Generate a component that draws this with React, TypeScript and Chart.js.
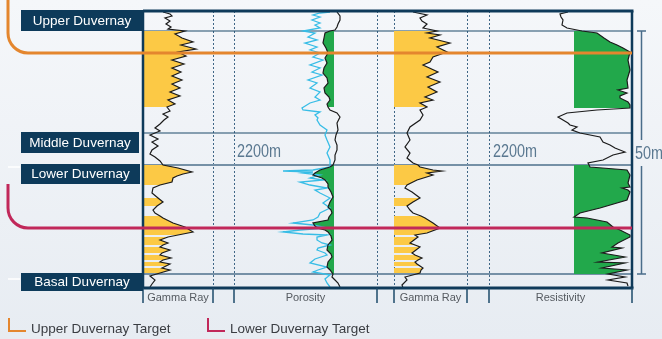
import React, { useEffect, useRef } from 'react';
import { Chart, registerables } from 'chart.js';
Chart.register(...registerables);

// ---------- data (depth, value) ----------
const formationNames = ['Upper Duvernay', 'Middle Duvernay', 'Lower Duvernay', 'Basal Duvernay'];
const formationTops = [11, 133, 165, 274];
const baseDepth = 288;
const trackNames = ['Gamma Ray', 'Porosity', 'Gamma Ray', 'Resistivity'];
const trackLeft = [143, 234, 394, 489];
const trackRight = [213, 377, 467, 632];
const distanceLabels = ['2200m', '2200m'];
const scaleLabel = '50m';
const legendLabels = ['Upper Duvernay Target', 'Lower Duvernay Target'];
const targetDepths = [53, 228];

const gammaRay1: [number, number][] = [
  [12, 163], [14, 170], [16, 172], [18, 165], [21, 170], [24, 166], [27, 171], [29, 168], [31, 185], [34, 175],
  [38, 182], [42, 193], [45, 181], [49, 196], [52, 178], [56, 186], [60, 172], [64, 184], [68, 172], [72, 181],
  [76, 172], [80, 182], [84, 172], [88, 180], [92, 170], [96, 180], [100, 168], [104, 175], [107, 167], [111, 170],
  [114, 163], [117, 168], [120, 164], [124, 160], [128, 155], [131, 160], [135, 150], [139, 158], [142, 152], [146, 158],
  [150, 152], [154, 150], [157, 155], [161, 160], [165, 163], [168, 178], [172, 192], [174, 183], [176, 177], [178, 173],
  [182, 172], [185, 160], [188, 153], [193, 152], [198, 158], [202, 163], [206, 157], [210, 153], [213, 155], [216, 160],
  [218, 163], [223, 173], [227, 185], [232, 193], [235, 178], [237, 168], [240, 160], [243, 168], [245, 163], [247, 160],
  [250, 170], [253, 162], [255, 160], [258, 171], [260, 163], [262, 160], [264, 170], [266, 166], [268, 162], [270, 170],
  [273, 160], [276, 150], [280, 155], [284, 152], [287, 150],
];
const gammaRay2: [number, number][] = [
  [12, 413], [15, 427], [18, 420], [21, 422], [24, 427], [28, 423], [31, 437], [33, 427], [35, 440], [38, 430],
  [43, 450], [47, 437], [52, 447], [57, 433], [62, 430], [65, 423], [72, 438], [77, 427], [82, 440], [87, 428],
  [92, 437], [97, 425], [100, 433], [103, 420], [107, 427], [110, 420], [115, 423], [120, 420], [127, 410], [133, 407],
  [140, 410], [147, 405], [153, 410], [158, 407], [163, 413], [165, 418], [167, 420], [170, 433], [171, 442], [173, 427],
  [175, 433], [180, 417], [185, 407], [188, 405], [192, 412], [198, 420], [202, 413], [206, 407], [210, 410], [213, 413],
  [216, 421], [218, 425], [223, 433], [228, 440], [233, 427], [235, 415], [237, 418], [240, 414], [243, 410], [245, 415],
  [247, 420], [250, 416], [253, 412], [255, 415], [258, 422], [260, 418], [262, 415], [264, 417], [266, 420], [268, 423],
  [270, 421], [273, 420], [277, 405], [280, 407], [285, 402], [288, 403],
];
const porosityBlack: [number, number][] = [
  [12, 337], [16, 340], [20, 340], [24, 338], [27, 337], [30, 335], [31, 330], [33, 325], [38, 324], [43, 323],
  [48, 326], [53, 328], [58, 325], [63, 327], [68, 324], [73, 323], [78, 327], [83, 328], [88, 324], [93, 325],
  [97, 329], [100, 330], [104, 327], [107, 328], [110, 330], [113, 337], [117, 340], [123, 337], [130, 338], [135, 336],
  [140, 335], [145, 337], [150, 337], [155, 335], [160, 335], [165, 333], [167, 330], [170, 320], [173, 315], [175, 313],
  [178, 322], [180, 325], [184, 328], [187, 328], [192, 331], [197, 333], [202, 330], [207, 328], [210, 331], [213, 332],
  [217, 329], [220, 328], [223, 313], [226, 315], [228, 317], [230, 325], [232, 328], [236, 331], [240, 332], [245, 328],
  [250, 327], [254, 331], [257, 332], [262, 328], [267, 327], [270, 330], [274, 333], [277, 332], [280, 335], [283, 338],
  [287, 340],
];
const porosityBlue: [number, number][] = [
  [12, 330], [13, 320], [15, 313], [17, 320], [20, 312], [23, 320], [25, 315], [28, 320], [31, 303], [33, 315],
  [37, 308], [40, 317], [43, 305], [47, 317], [50, 310], [53, 320], [57, 313], [60, 323], [65, 310], [68, 320],
  [72, 312], [75, 322], [80, 308], [83, 317], [88, 310], [92, 320], [97, 315], [100, 320], [103, 310], [108, 302],
  [110, 303], [112, 320], [115, 315], [118, 318], [120, 317], [125, 320], [130, 327], [135, 325], [140, 327], [147, 330],
  [153, 327], [160, 330], [167, 330], [170, 313], [171, 283], [172, 313], [173, 303], [175, 320], [178, 310], [180, 323],
  [182, 300], [185, 310], [188, 327], [190, 315], [193, 320], [198, 330], [203, 323], [208, 330], [213, 320], [217, 318],
  [220, 313], [223, 293], [225, 313], [228, 327], [230, 300], [232, 283], [234, 303], [235, 327], [237, 317], [240, 317],
  [243, 322], [245, 330], [248, 318], [250, 317], [253, 325], [255, 327], [259, 315], [263, 310], [267, 327], [270, 318],
  [272, 313], [275, 330], [279, 325], [283, 327], [287, 330],
];
const resistivity: [number, number][] = [
  [12, 568], [14, 560], [17, 561], [20, 563], [25, 562], [28, 567], [31, 582], [33, 597], [38, 604], [42, 610],
  [45, 617], [48, 623], [52, 630], [60, 628], [70, 630], [80, 627], [88, 628], [90, 618], [93, 627], [96, 620],
  [98, 620], [102, 628], [105, 630], [108, 630], [110, 597], [113, 567], [117, 558], [120, 563], [123, 568], [125, 570],
  [127, 577], [130, 572], [133, 580], [137, 600], [142, 603], [145, 610], [148, 615], [152, 625], [155, 613], [160, 603],
  [163, 588], [165, 589], [167, 590], [170, 627], [175, 630], [183, 628], [187, 630], [188, 622], [190, 628], [192, 630],
  [200, 627], [208, 600], [213, 580], [217, 574], [218, 587], [222, 607], [227, 613], [230, 620], [235, 630], [237, 630],
  [243, 618], [247, 612], [248, 622], [253, 602], [257, 625], [262, 598], [263, 625], [268, 602], [270, 627], [274, 608],
  [277, 625], [280, 608], [283, 627], [286, 628],
];

// shaded intervals [top, bottom]
const gammaBands: [number, number][] = [
  [31, 107], [165, 185], [198, 206], [216, 235], [237, 245], [247, 253], [255, 260], [262, 266], [268, 273],
];
const payBands: [number, number][] = [[31, 107], [165, 274]];
const resBands: [number, number][] = [[31, 108], [165, 274]];

// ---------- style ----------
const YELLOW = '#fcc945';
const GREEN = '#22a84b';
const BLUE = '#38bde6';
const CURVE = '#1b1b1b';
const NAVY = '#0d3a5a';
const ORANGE = '#e4862e';
const CRIMSON = '#c1285a';
const TEXTGREY = '#5a7890';

const toPts = (arr: [number, number][]) => arr.map(([d, v]) => ({ x: v, y: d }));

function bandShape(curve: [number, number][], top: number, bottom: number, edge: number, L: number, R: number) {
  const pts = curve.filter(([d]) => d >= top && d <= bottom).map(([d, v]) => ({ x: v, y: d }));
  if (!pts.length) return [];
  const yA = pts[0].y;
  const yB = pts[pts.length - 1].y;
  return [{ x: L, y: yA }, ...pts, { x: edge, y: yB }, { x: edge, y: yA }, { x: R, y: yA }];
}

const curveDs = (data: [number, number][], color: string, order: number, width = 1.2) => ({
  data: toPts(data), showLine: true, borderColor: color, borderWidth: width, pointRadius: 0,
  fill: false, tension: 0, order,
});
const shapeDs = (data: any[], color: string) => ({
  data, showLine: true, borderColor: 'rgba(0,0,0,0)', borderWidth: 0, pointRadius: 0,
  backgroundColor: color, fill: 'shape', tension: 0, order: 5,
});

// draws text squeezed horizontally (condensed look)
function narrowText(ctx: any, text: string, x: number, y: number, sx: number) {
  ctx.save();
  ctx.translate(x, y);
  ctx.scale(sx, 1);
  ctx.fillText(text, 0, 0);
  ctx.restore();
}

const decor = {
  id: 'decor',
  beforeDraw(chart: any) {
    const { ctx } = chart;
    const g = ctx.createLinearGradient(0, 0, 0, chart.height);
    g.addColorStop(0, '#f5f7fa');
    g.addColorStop(1, '#e7ecf2');
    ctx.save();
    ctx.fillStyle = g;
    ctx.fillRect(0, 0, chart.width, chart.height);
    ctx.restore();
  },
  beforeDatasetsDraw(chart: any) {
    const { ctx } = chart;
    const X = (v: number) => chart.scales.x.getPixelForValue(v);
    const Y = (v: number) => chart.scales.y.getPixelForValue(v);
    ctx.save();
    ctx.strokeStyle = '#3f6686';
    ctx.lineWidth = 1;
    ctx.setLineDash([2, 2]);
    const inner = [trackRight[0], trackLeft[1], trackRight[1], trackLeft[2], trackRight[2], trackLeft[3]];
    inner.forEach((x) => {
      ctx.beginPath();
      ctx.moveTo(Math.round(X(x)) + 0.5, Y(formationTops[0]));
      ctx.lineTo(Math.round(X(x)) + 0.5, Y(baseDepth));
      ctx.stroke();
    });
    ctx.setLineDash([]);
    formationTops.slice(1).forEach((d, i) => {
      ctx.beginPath();
      ctx.strokeStyle = i === 0 ? '#1d4a6a' : '#7590a6';
      ctx.lineWidth = i === 0 ? 1.2 : 1.8;
      ctx.moveTo(X(trackLeft[0]), Y(d));
      ctx.lineTo(X(trackRight[3]), Y(d));
      ctx.stroke();
    });
    ctx.beginPath();
    ctx.strokeStyle = '#1d4a6a';
    ctx.lineWidth = 1.2;
    ctx.moveTo(X(trackLeft[0]), Y(31));
    ctx.lineTo(X(trackRight[3]), Y(31));
    ctx.stroke();
    ctx.restore();
  },
  afterDatasetsDraw(chart: any) {
    const { ctx } = chart;
    const X = (v: number) => chart.scales.x.getPixelForValue(v);
    const Y = (v: number) => chart.scales.y.getPixelForValue(v);
    ctx.save();
    ctx.strokeStyle = '#0e3a5a';
    ctx.lineWidth = 3;
    ctx.beginPath();
    ctx.moveTo(X(trackLeft[0]), Y(formationTops[0]));
    ctx.lineTo(X(trackRight[3]) + 1.5, Y(formationTops[0]));
    ctx.moveTo(X(trackLeft[0]), Y(baseDepth));
    ctx.lineTo(X(trackRight[3]) + 1.5, Y(baseDepth));
    ctx.stroke();
    ctx.lineWidth = 2.5;
    ctx.beginPath();
    ctx.moveTo(X(trackLeft[0]), Y(formationTops[0]));
    ctx.lineTo(X(trackLeft[0]), Y(baseDepth));
    ctx.moveTo(X(trackRight[3]), Y(formationTops[0]));
    ctx.lineTo(X(trackRight[3]), Y(baseDepth));
    ctx.stroke();
    ctx.lineWidth = 1.5;
    ctx.strokeStyle = '#1d4a6a';
    const ticks = [trackLeft[0], trackRight[0], trackLeft[1], trackRight[1], trackLeft[2], trackRight[2], trackLeft[3], trackRight[3]];
    ticks.forEach((x) => {
      ctx.beginPath();
      ctx.moveTo(X(x), Y(baseDepth));
      ctx.lineTo(X(x), Y(baseDepth) + 15);
      ctx.stroke();
    });
    const drawTarget = (startY: number, depth: number, color: string) => {
      ctx.beginPath();
      ctx.strokeStyle = color;
      ctx.lineWidth = 3;
      ctx.lineCap = 'butt';
      ctx.moveTo(8, startY);
      ctx.arcTo(8, Y(depth), 28, Y(depth), 20);
      ctx.lineTo(X(trackRight[3]), Y(depth));
      ctx.stroke();
    };
    drawTarget(0, targetDepths[0], ORANGE);
    drawTarget(184, targetDepths[1], CRIMSON);
    ctx.restore();
  },
  afterDraw(chart: any) {
    const { ctx } = chart;
    const X = (v: number) => chart.scales.x.getPixelForValue(v);
    const Y = (v: number) => chart.scales.y.getPixelForValue(v);
    ctx.save();
    const boxTop = [10, 132, 164, 273];
    const boxBottom = [31, 153, 184, 291];
    const boxRight = [143, 139, 140, 143];
    ctx.font = '13.5px "Liberation Sans", Arial, sans-serif';
    ctx.textAlign = 'center';
    ctx.textBaseline = 'middle';
    formationNames.forEach((n, i) => {
      ctx.fillStyle = NAVY;
      ctx.fillRect(21, Y(boxTop[i]), boxRight[i] - 21, Y(boxBottom[i]) - Y(boxTop[i]));
      ctx.fillStyle = '#ffffff';
      ctx.fillText(n, (21 + boxRight[i]) / 2, (Y(boxTop[i]) + Y(boxBottom[i])) / 2 + 0.5);
    });
    ctx.strokeStyle = '#ffffff';
    ctx.lineWidth = 1.5;
    ctx.beginPath();
    ctx.moveTo(8, 167); ctx.lineTo(20, 167);
    ctx.moveTo(8, 279); ctx.lineTo(20, 279);
    ctx.stroke();
    ctx.fillStyle = '#555a60';
    ctx.font = '11px "Liberation Sans", Arial, sans-serif';
    trackNames.forEach((n, i) => {
      ctx.fillText(n, (X(trackLeft[i]) + X(trackRight[i])) / 2, Y(baseDepth) + 10);
    });
    // distance labels (condensed)
    ctx.fillStyle = TEXTGREY;
    ctx.font = '18px "Liberation Sans", Arial, sans-serif';
    ctx.textAlign = 'left';
    ctx.textBaseline = 'alphabetic';
    const sx = 44 / ctx.measureText(distanceLabels[0]).width;
    narrowText(ctx, distanceLabels[0], X(trackLeft[1]) + 3, 157, sx);
    narrowText(ctx, distanceLabels[1], X(trackLeft[3]) + 4, 157, sx);
    // scale bar
    ctx.strokeStyle = '#4a6d8a';
    ctx.lineWidth = 1.5;
    ctx.beginPath();
    ctx.moveTo(641.5, Y(31)); ctx.lineTo(641.5, 140);
    ctx.moveTo(641.5, 166); ctx.lineTo(641.5, Y(274));
    ctx.moveTo(637, Y(31)); ctx.lineTo(646, Y(31));
    ctx.moveTo(637, Y(274)); ctx.lineTo(646, Y(274));
    ctx.stroke();
    narrowText(ctx, scaleLabel, 635, 159, sx);
    // legend
    const legendX = [8, 207];
    const colors = [ORANGE, CRIMSON];
    ctx.font = '13.5px "Liberation Sans", Arial, sans-serif';
    ctx.textBaseline = 'middle';
    legendLabels.forEach((l, i) => {
      ctx.strokeStyle = colors[i];
      ctx.lineWidth = 2;
      ctx.beginPath();
      ctx.moveTo(legendX[i] + 1, 318);
      ctx.lineTo(legendX[i] + 1, 331);
      ctx.lineTo(legendX[i] + 18, 331);
      ctx.stroke();
      ctx.fillStyle = '#3a3d42';
      ctx.fillText(l, legendX[i] + 23, 329);
    });
    ctx.restore();
  },
};

export default function App() {
  const ref = useRef<HTMLCanvasElement>(null);
  useEffect(() => {
    document.body.style.margin = '0';
    const canvas = ref.current;
    if (!canvas) return;
    const datasets: any[] = [
      curveDs(porosityBlack, CURVE, 0),
      curveDs(gammaRay1, CURVE, 0),
      curveDs(gammaRay2, CURVE, 0),
      curveDs(resistivity, CURVE, 0),
      curveDs(porosityBlue, BLUE, 1, 1.3),
    ];
    gammaBands.forEach(([t, b]) => {
      datasets.push(shapeDs(bandShape(gammaRay1, t, b, trackLeft[0], trackLeft[0], trackRight[0]), YELLOW));
      datasets.push(shapeDs(bandShape(gammaRay2, t, b, trackLeft[2], trackLeft[2], trackRight[2]), YELLOW));
    });
    payBands.forEach(([t, b]) => {
      datasets.push(shapeDs(bandShape(porosityBlack, t, b, 334, trackLeft[1], trackRight[1]), GREEN));
    });
    resBands.forEach(([t, b]) => {
      datasets.push(shapeDs(bandShape(resistivity, t, b, 574, trackLeft[3], trackRight[3]), GREEN));
    });
    const chart = new Chart(canvas, {
      type: 'scatter',
      data: { datasets },
      options: {
        animation: false,
        responsive: false,
        devicePixelRatio: 1,
        layout: { padding: 0 },
        plugins: { legend: { display: false }, tooltip: { enabled: false } },
        events: [],
        scales: {
          x: { type: 'linear', min: 0, max: 662, display: false },
          y: { type: 'linear', min: 0, max: 339, reverse: true, display: false },
        },
      },
      plugins: [decor],
    });
    return () => chart.destroy();
  }, []);
  return <canvas ref={ref} width={662} height={339} style={{ display: 'block' }} />;
}
